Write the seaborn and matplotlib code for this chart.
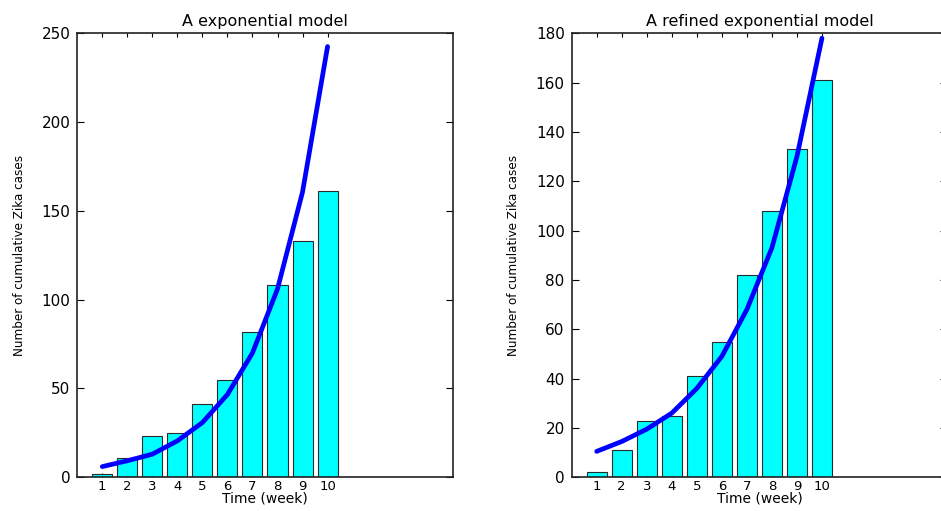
import numpy as np
import pandas as pd
import seaborn as sns
import matplotlib.pyplot as plt
from matplotlib import font_manager

# weekly data
weeks = [1, 2, 3, 4, 5, 6, 7, 8, 9, 10]
cases = [2, 11, 23, 25, 41, 55, 82, 108, 133, 161]

# model curves
exp_model = [6, 9.3, 13, 20.5, 30.8, 46.6, 70, 106, 160.6, 242.5]
refined_model = [10.5, 14.5, 19.5, 26, 36, 49, 68, 93, 130, 178]

titles = ["A exponential model", "A refined exponential model"]
ylims = [250, 180]
yticks = [[0, 50, 100, 150, 200, 250], [0, 20, 40, 60, 80, 100, 120, 140, 160, 180]]

df = pd.DataFrame({"week": weeks, "cases": cases,
                   "exp": exp_model, "refined": refined_model})

sns.set_style("white")
plt.rcParams['font.family'] = ['DejaVu Sans']
plt.rcParams['text.color'] = 'black'
plt.rcParams['xtick.color'] = 'black'
plt.rcParams['ytick.color'] = 'black'
plt.rcParams['axes.labelcolor'] = 'black'

# narrow font for the y label if there is one
names = set(f.name for f in font_manager.fontManager.ttflist)
if 'Liberation Sans Narrow' in names:
    ylab_font = dict(family='Liberation Sans Narrow', fontsize=11.5)
else:
    ylab_font = dict(family='DejaVu Sans', fontstretch='condensed', fontsize=9.5)

fig = plt.figure(figsize=(9.41, 5.11), dpi=100)
ax1 = fig.add_axes([0.0821, 0.066, 0.399, 0.869])
ax2 = fig.add_axes([0.6075, 0.066, 0.399, 0.869])

for ax, col, title, ymax, yt in zip([ax1, ax2], ["exp", "refined"], titles, ylims, yticks):
    sns.barplot(data=df, x="week", y="cases", native_scale=True, ax=ax,
                color="#00ffff", saturation=1, edgecolor="#2a2a2a", linewidth=0.8,
                width=0.8)
    sns.lineplot(data=df, x="week", y=col, ax=ax, color="#0000ff", linewidth=3.4)
    ax.set_xlim(0, 15)
    ax.set_ylim(0, ymax)
    ax.set_xticks(weeks)
    ax.set_xticklabels([str(w) for w in weeks])
    ax.set_yticks(yt)
    ax.tick_params(axis='x', direction='in', length=3, width=0.8, top=True, bottom=True,
                   labelsize=9.5, pad=2)
    ax.tick_params(axis='y', direction='in', length=5, width=0.8, left=True, right=True,
                   labelsize=11, pad=5)
    for s in ax.spines.values():
        s.set_visible(True)
        s.set_color("#222222")
        s.set_linewidth(1.2)
    ax.set_title(title, fontsize=11.5, pad=5)
    ax.set_xlabel("Time (week)", fontsize=10, labelpad=-1)
    ax.set_ylabel("Number of cumulative Zika cases", labelpad=11, **ylab_font)

plt.savefig("out.png", dpi=100)
